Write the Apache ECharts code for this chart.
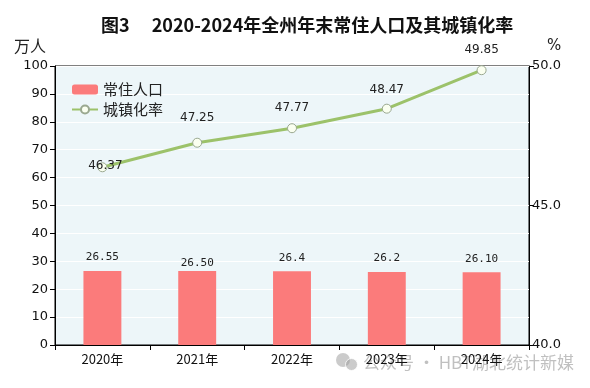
<!DOCTYPE html>
<html><head><meta charset="utf-8">
<script src="https://cdn.jsdelivr.net/npm/echarts@6/dist/echarts.min.js"></script>
<style>html,body{margin:0;padding:0;background:#fff}#c{width:590px;height:388px}</style>
</head><body><div id="c"></div>
<script>
var categories = ['2020年', '2021年', '2022年', '2023年', '2024年'];
var population = [26.55, 26.50, 26.4, 26.2, 26.10];
var populationLabels = ['26.55', '26.50', '26.4', '26.2', '26.10'];
var urbanRate = [46.37, 47.25, 47.77, 48.47, 49.85];
var urbanLabels = ['46.37', '47.25', '47.77', '48.47', '49.85'];

var barLabelOffsets = [[0, -5], [0, 1], [0, -5], [0, -5], [0, -5]];
var lineLabelOffsets = [[3, 15], [0, -9], [0, -4], [0, -3], [0, -4]];

var chart = echarts.init(document.getElementById('c'));
var font = 'DejaVu Sans';
chart.setOption({
  animation: false,
  backgroundColor: '#ffffff',
  title: {
    text: '图3\u3000 2020-2024年全州年末常住人口及其城镇化率',
    left: 96, top: 11,
    textStyle: { fontFamily: 'Noto Sans CJK SC', fontWeight: 'bold', fontSize: 18, color: '#111' }
  },
  legend: {
    orient: 'vertical', left: 66, top: 77,
    itemWidth: 26, itemHeight: 10, itemGap: 5,
    textStyle: { fontFamily: 'Noto Sans CJK SC', fontSize: 15, color: '#222' },
    data: ['常住人口', '城镇化率']
  },
  grid: {
    left: 55, right: 61, top: 66, bottom: 43,
    show: true, backgroundColor: '#edf6f9', borderColor: '#000', borderWidth: 1
  },
  xAxis: {
    type: 'category', data: categories,
    axisLine: { lineStyle: { color: '#000', width: 1 } },
    axisTick: { show: true, length: 5, lineStyle: { color: '#000' } },
    axisLabel: { fontFamily: 'Noto Sans CJK SC', fontSize: 13, color: '#111', margin: 8 }
  },
  yAxis: [{
    type: 'value', min: 0, max: 100, interval: 10,
    name: '万人', nameLocation: 'end', nameGap: 12,
    nameTextStyle: { fontFamily: 'Noto Sans CJK SC', fontSize: 16, color: '#222', align: 'right', padding: [0, 9, 0, 0] },
    axisLine: { show: true, lineStyle: { color: '#000' } },
    axisTick: { show: true, length: 5, lineStyle: { color: '#000' } },
    axisLabel: { fontFamily: font, fontSize: 13, color: '#111', margin: 7 },
    splitLine: { show: true, lineStyle: { color: '#ffffff', width: 1 } }
  }, {
    type: 'value', min: 40, max: 50, interval: 5,
    name: '%', nameLocation: 'end', nameGap: 12,
    nameTextStyle: { fontFamily: font, fontSize: 15, color: '#222', align: 'left', padding: [0, 0, 0, 18] },
    axisLine: { show: true, lineStyle: { color: '#000' } },
    axisTick: { show: true, length: 5, lineStyle: { color: '#000' } },
    axisLabel: { fontFamily: font, fontSize: 13, color: '#111', margin: 3,
      formatter: function (v) { return v.toFixed(1); } },
    splitLine: { show: false }
  }],
  series: [{
    name: '常住人口', type: 'bar', yAxisIndex: 0, barWidth: '40%',
    itemStyle: { color: '#fb7b7b' },
    data: population.map(function (v, i) {
      return { value: v, label: { offset: barLabelOffsets[i] } };
    }),
    label: {
      show: true, position: 'top', distance: 3,
      fontFamily: 'DejaVu Sans Mono', fontSize: 11, color: '#222',
      formatter: function (p) { return populationLabels[p.dataIndex]; }
    }
  }, {
    name: '城镇化率', type: 'line', yAxisIndex: 1,
    symbol: 'circle', symbolSize: 9,
    lineStyle: { color: '#9cc26a', width: 3 },
    itemStyle: { color: '#fafff0', borderColor: '#9aa890', borderWidth: 1 },
    data: urbanRate.map(function (v, i) {
      return { value: v, label: { offset: lineLabelOffsets[i] } };
    }),
    label: {
      show: true, position: 'top', distance: 5,
      fontFamily: font, fontSize: 12, color: '#222',
      formatter: function (p) { return urbanLabels[p.dataIndex]; }
    }
  }],
  graphic: [{
    type: 'circle', left: 336, top: 353, silent: true,
    shape: { r: 7 }, style: { fill: 'rgba(160,160,160,0.55)' }
  }, {
    type: 'circle', left: 345, top: 358, silent: true,
    shape: { r: 6 }, style: { fill: 'rgba(160,160,160,0.55)', stroke: 'rgba(255,255,255,0.8)', lineWidth: 1 }
  }, {
    type: 'text', right: 16, top: 354, silent: true,
    style: { text: '公众号 · HBT湖北统计新媒', fill: 'rgba(150,150,150,0.6)', font: '17px "Noto Sans CJK SC"' }
  }]
});
</script></body></html>
